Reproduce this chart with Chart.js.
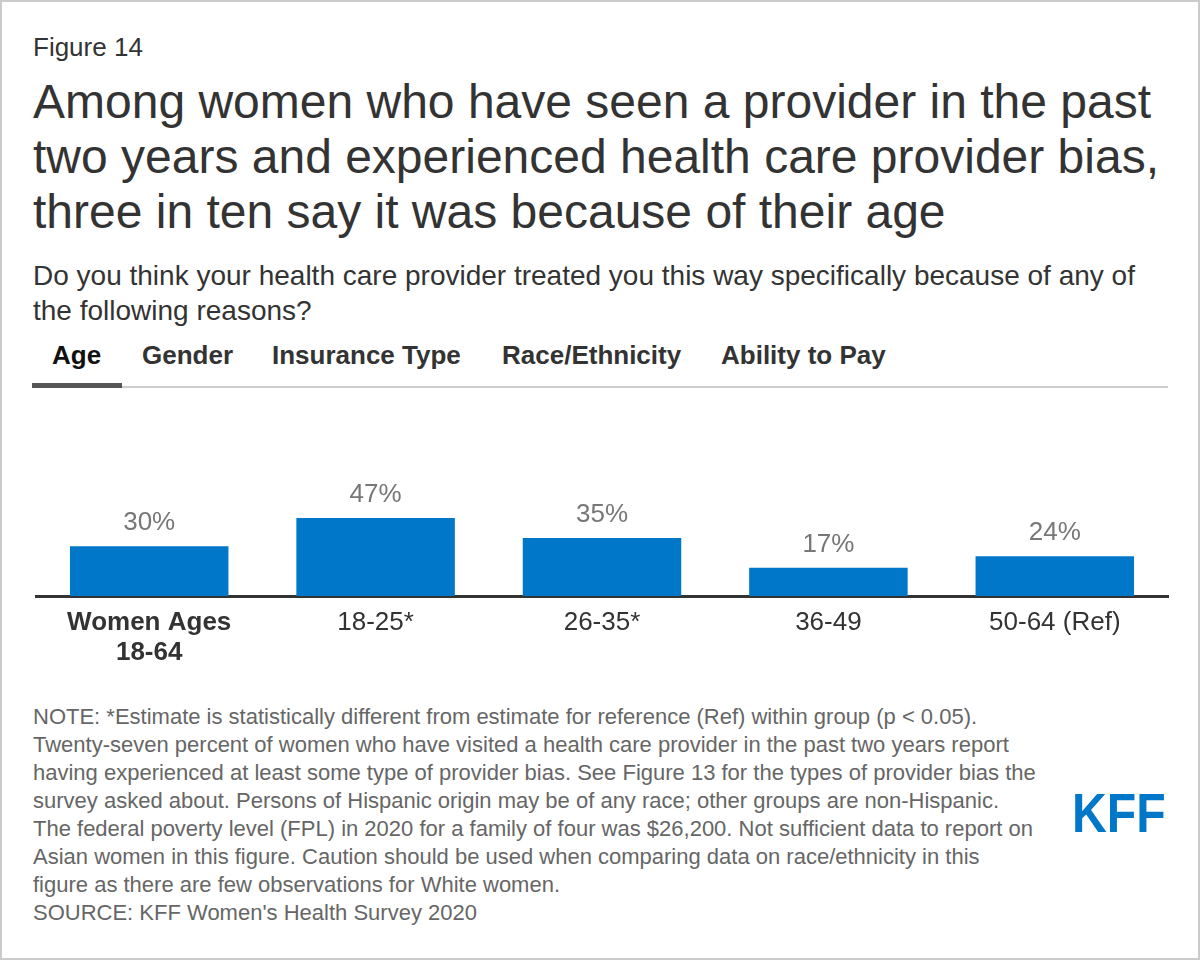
<!DOCTYPE html>
<html lang="en">
<head>
    <meta charset="UTF-8">
    <title>Figure 14</title>
    <script src="https://cdn.jsdelivr.net/npm/chart.js"></script>
    <style>
        body {
            margin: 0;
            background: #fff;
            font-family: Arial, 'Liberation Sans', sans-serif;
            color: #333;
        }
        .card {
            position: relative;
            width: 1200px;
            height: 960px;
            box-sizing: border-box;
            border: 2px solid #cbcbcb;
            background: #fff;
        }
        .abs { position: absolute; white-space: nowrap; }
        .fig { left: 31px; top: 30px; font-size: 26px; line-height: 30px; }
        .title { left: 31px; top: 72px; font-size: 48px; line-height: 55px; }
        .sub { left: 31px; top: 256px; font-size: 28px; line-height: 35px; }
        .tab {
            position: absolute; top: 338px; font-size: 26px; line-height: 30px;
            font-weight: bold; color: #333;
        }
        .tab.active { color: #111; }
        .tab-line { left: 30px; top: 384px; width: 1136px; height: 2px; background: #ccc; }
        .tab-mark { left: 30px; top: 381px; width: 90px; height: 5px; background: #555; }
        .chart-box { left: -2px; top: 418px; width: 1200px; height: 260px; }
        .note { left: 31px; top: 701px; font-size: 22px; line-height: 28px; color: #666; }
        .logo {
            left: 1070px; top: 783px; font-size: 56px; line-height: 56px; font-weight: bold;
            color: #0077c8; transform: scaleX(0.86); transform-origin: left top;
        }
    </style>
</head>
<body>
<div class="card">
    <div class="abs fig">Figure 14</div>
    <div class="abs title">Among women who have seen a provider in the past<br>two years and experienced health care provider bias,<br>three in ten say it was because of their age</div>
    <div class="abs sub">Do you think your health care provider treated you this way specifically because of any of<br>the following reasons?</div>
    <div class="abs tab-line"></div>
    <div class="abs tab-mark"></div>
    <div class="abs tab active" style="left:50px">Age</div>
    <div class="abs tab" style="left:140px">Gender</div>
    <div class="abs tab" style="left:270px">Insurance Type</div>
    <div class="abs tab" style="left:500px">Race/Ethnicity</div>
    <div class="abs tab" style="left:719px">Ability to Pay</div>
    <div class="abs chart-box"><canvas id="ageChart"></canvas></div>
    <div class="abs note">NOTE: *Estimate is statistically different from estimate for reference (Ref) within group (p &lt; 0.05).<br>Twenty-seven percent of women who have visited a health care provider in the past two years report<br>having experienced at least some type of provider bias. See Figure 13 for the types of provider bias the<br>survey asked about. Persons of Hispanic origin may be of any race; other groups are non-Hispanic.<br>The federal poverty level (FPL) in 2020 for a family of four was $26,200. Not sufficient data to report on<br>Asian women in this figure. Caution should be used when comparing data on race/ethnicity in this<br>figure as there are few observations for White women.<br>SOURCE: KFF Women's Health Survey 2020</div>
    <div class="abs logo">KFF</div>
</div>

<script>
    // Data
    const ageGroups = [['Women Ages', '18-64'], '18-25*', '26-35*', '36-49', '50-64 (Ref)'];
    const biasShare = [30, 47, 35, 17, 24];

    const fontFamily = "Arial, 'Liberation Sans', sans-serif";

    // Percent labels above each bar
    const valueLabels = {
        id: 'valueLabels',
        afterDatasetsDraw(chart) {
            const ctx = chart.ctx;
            const meta = chart.getDatasetMeta(0);
            ctx.save();
            ctx.font = '26px ' + fontFamily;
            ctx.fillStyle = '#777';
            ctx.textAlign = 'center';
            ctx.textBaseline = 'alphabetic';
            meta.data.forEach((bar, i) => {
                ctx.fillText(biasShare[i] + '%', bar.x, bar.y - 16);
            });
            ctx.restore();
        }
    };

    new Chart(document.getElementById('ageChart'), {
        type: 'bar',
        data: {
            labels: ageGroups,
            datasets: [{
                data: biasShare,
                backgroundColor: '#0077c8',
                barPercentage: 0.7,
                categoryPercentage: 1.0
            }]
        },
        options: {
            responsive: true,
            maintainAspectRatio: false,
            animation: false,
            layout: { padding: { top: 10, left: 36, right: 32, bottom: 0 } },
            scales: {
                x: {
                    grid: { display: false },
                    border: { display: true, color: '#333', width: 3 },
                    afterFit(scale) { scale.height = 84; },
                    ticks: {
                        color: '#333',
                        padding: 4,
                        maxRotation: 0,
                        autoSkip: false,
                        font: (c) => ({
                            family: fontFamily,
                            size: 26,
                            lineHeight: 30 / 26,
                            weight: c.index === 0 ? 'bold' : 'normal'
                        })
                    }
                },
                y: {
                    display: false,
                    min: 0,
                    max: 100
                }
            },
            plugins: {
                legend: { display: false },
                tooltip: { enabled: false }
            }
        },
        plugins: [valueLabels]
    });
</script>
</body>
</html>
